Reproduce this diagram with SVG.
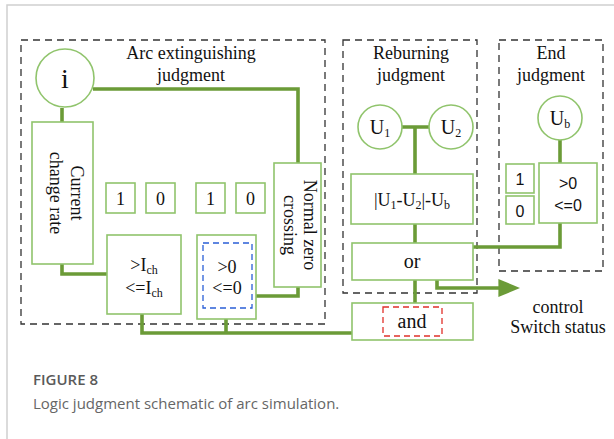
<svg xmlns="http://www.w3.org/2000/svg" width="614" height="439" viewBox="0 0 614 439">
<style>
.frame{fill:none;stroke:#d0d0d0;stroke-width:1.5}
.grp{fill:none;stroke:#333;stroke-width:1.3;stroke-dasharray:7 5}
.box{fill:#fff;stroke:#90c46c;stroke-width:1.6}
.wire{fill:none;stroke:#6b9b37;stroke-width:3.6}
.t{font-family:"Liberation Serif","Times New Roman",serif;font-size:18px;fill:#111;text-anchor:middle}
.s{font-family:"Liberation Sans",Arial,sans-serif;font-size:16px;fill:#111;text-anchor:middle}
.sub{font-size:12px}
.cap{font-family:"Open Sans","Noto Sans",sans-serif;font-size:15px}
</style>
<defs>
<marker id="arr" markerWidth="6" markerHeight="5" refX="1" refY="2.5" orient="auto" markerUnits="strokeWidth">
<path d="M0,0 L6,2.5 L0,5 Z" fill="#6b9b37"/>
</marker>
</defs>
<rect width="614" height="439" fill="#fff"/>
<path class="frame" d="M7,439 V5 H614"/>

<g id="groups">
<rect class="grp" x="21" y="40" width="304" height="284"/>
<rect class="grp" x="343" y="40" width="134" height="253"/>
<rect class="grp" x="499" y="40" width="104" height="231"/>
<text class="t" x="191" y="59">Arc extinguishing</text>
<text class="t" x="191" y="81">judgment</text>
<text class="t" x="411" y="59">Reburning</text>
<text class="t" x="411" y="81">judgment</text>
<text class="t" x="551" y="59">End</text>
<text class="t" x="551" y="81">judgment</text>
</g>

<g id="connectors">
<path class="wire" d="M93,89 H298 V163"/>
<path class="wire" d="M62,108 V122"/>
<path class="wire" d="M62,264 V274 H107"/>
<path class="wire" d="M256,296 H298 V287"/>
<path class="wire" d="M142,314 V333 H352"/>
<path class="wire" d="M226,319 V333"/>
<path class="wire" d="M402,127 H429 M415,127 V174"/>
<path class="wire" d="M415,224 V243"/>
<path class="wire" d="M415,280 V303"/>
<path class="wire" d="M560,140 V163"/>
<path class="wire" d="M560,223 V247 H473"/>
<path class="wire" d="M437,280 V288 H502" marker-end="url(#arr)"/>
</g>

<g id="node-i"><circle class="box" cx="65" cy="78" r="29"/><text class="t" x="65" y="88" style="font-size:28px">i</text></g>
<g id="node-rate"><rect class="box" x="32" y="122" width="61" height="142"/>
<g transform="translate(62,193) rotate(90)"><text class="t" x="0" y="-9">Current</text><text class="t" x="0" y="12">change rate</text></g></g>
<g id="node-zero"><rect class="box" x="274" y="163" width="47" height="124"/>
<g transform="translate(297.5,225) rotate(90)"><text class="t" x="0" y="-6">Normal zero</text><text class="t" x="0" y="14">crossing</text></g></g>
<g id="node-b1"><rect class="box" x="106" y="183" width="29" height="30"/><text class="t" x="120.5" y="205">1</text></g>
<g id="node-b2"><rect class="box" x="146" y="183" width="29" height="30"/><text class="t" x="160.5" y="205">0</text></g>
<g id="node-b3"><rect class="box" x="196" y="183" width="29" height="30"/><text class="t" x="210.5" y="205">1</text></g>
<g id="node-b4"><rect class="box" x="236" y="183" width="29" height="30"/><text class="t" x="250.5" y="205">0</text></g>
<g id="node-ich"><rect class="box" x="107" y="235" width="74" height="79"/>
<text class="t" x="144" y="271">&gt;I<tspan class="sub" dy="3">ch</tspan></text>
<text class="t" x="144" y="294">&lt;=I<tspan class="sub" dy="3">ch</tspan></text></g>
<g id="node-gt0"><rect class="box" x="197" y="235" width="59" height="84"/>
<rect x="203" y="243" width="49" height="65" fill="none" stroke="#2a5fd6" stroke-width="1.3" stroke-dasharray="6 4"/>
<text class="t" x="227" y="273">&gt;0</text><text class="t" x="227" y="294">&lt;=0</text></g>

<g id="node-u1"><circle class="box" cx="380" cy="127" r="22"/><text class="t" x="380" y="134" style="font-size:20px">U<tspan class="sub" dy="3">1</tspan></text></g>
<g id="node-u2"><circle class="box" cx="451" cy="127" r="22"/><text class="t" x="451" y="134" style="font-size:20px">U<tspan class="sub" dy="3">2</tspan></text></g>
<g id="node-diff"><rect class="box" x="351" y="174" width="122" height="50"/>
<text class="t" x="412" y="206">|U<tspan class="sub" dy="3">1</tspan><tspan dy="-3">-U</tspan><tspan class="sub" dy="3">2</tspan><tspan dy="-3">|-U</tspan><tspan class="sub" dy="3">b</tspan></text></g>
<g id="node-or"><rect class="box" x="352" y="243" width="121" height="37"/><text class="t" x="412" y="268" style="font-size:20px">or</text></g>
<g id="node-and"><rect class="box" x="352" y="303" width="121" height="37"/>
<rect x="383" y="307" width="59" height="29" fill="none" stroke="#e0302a" stroke-width="1.3" stroke-dasharray="6 4"/>
<text class="t" x="412" y="328" style="font-size:20px">and</text></g>

<g id="node-ub"><circle class="box" cx="560" cy="118" r="22"/><text class="t" x="560" y="125" style="font-size:20px">U<tspan class="sub" dy="3">b</tspan></text></g>
<g id="node-end"><rect class="box" x="539" y="163" width="58" height="60"/>
<text class="s" x="568" y="189">&gt;0</text><text class="s" x="568" y="211">&lt;=0</text></g>
<g id="node-e1"><rect class="box" x="506" y="164" width="28" height="29"/><text class="s" x="520" y="185">1</text></g>
<g id="node-e0"><rect class="box" x="506" y="196" width="28" height="28"/><text class="s" x="520" y="217">0</text></g>

<g id="label-out"><text class="t" x="558" y="313">control</text><text class="t" x="558" y="333">Switch status</text></g>

<g id="caption">
<text class="cap" x="33" y="385" fill="#5a5a5a" style="font-weight:600">FIGURE 8</text>
<text class="cap" x="33" y="409" fill="#666">Logic judgment schematic of arc simulation.</text>
</g>
</svg>
